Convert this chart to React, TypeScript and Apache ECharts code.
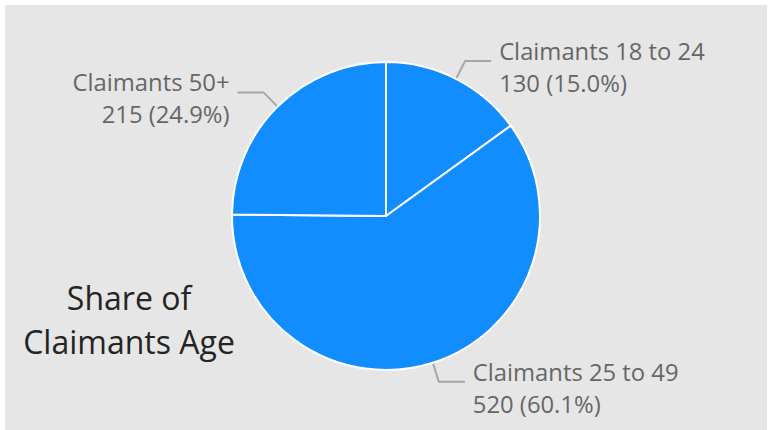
import React, { useEffect, useRef } from "react";
import * as echarts from "echarts";

const categories = ["Claimants 18 to 24", "Claimants 25 to 49", "Claimants 50+"];
const values = [130, 520, 215];
const titleLines = ["Share of", "Claimants Age"];

export default function App() {
  const ref = useRef<HTMLDivElement>(null);
  useEffect(() => {
    if (!ref.current) return;
    const chart = echarts.init(ref.current, undefined, { renderer: "svg" });
    chart.setOption({
      animation: false,
      backgroundColor: "#ffffff",
      graphic: [
        {
          type: "rect",
          z: -10,
          shape: { x: 5, y: 5, width: 762, height: 425 },
          style: { fill: "#e6e6e6" },
          silent: true,
        },
      ],
      title: {
        text: titleLines.join("\n"),
        left: 124,
        top: 270,
        textAlign: "center",
        textStyle: {
          fontFamily: "Open Sans",
          fontSize: 32,
          fontWeight: "normal",
          color: "#252423",
          lineHeight: 44,
        },
      },
      series: [
        {
          type: "pie",
          center: [386, 216],
          radius: 154,
          startAngle: 90,
          clockwise: true,
          percentPrecision: 1,
          avoidLabelOverlap: false,
          itemStyle: { color: "#118DFF", borderColor: "#ffffff", borderWidth: 2 },
          label: {
            formatter: (p: any) =>
              `{sp| }\n{t|${p.name}}\n{t|${p.value} (${Number(p.percent).toFixed(1)}%)}`,
            fontFamily: "Open Sans",
            fontSize: 23.8,
            color: "#666666",
            lineHeight: 32,
            distanceToLabelLine: 8,
            rich: {
              sp: { fontSize: 1, lineHeight: 12, height: 12 },
              t: { fontFamily: "Open Sans", fontSize: 23.8, color: "#666666", lineHeight: 32 },
            },
          },
          labelLine: {
            length: 20,
            length2: 26,
            lineStyle: { color: "#a6a6a6", width: 2 },
          },
          emphasis: { disabled: true },
          data: categories.map((name, i) => ({ name, value: values[i] })),
        },
      ],
    });
    return () => chart.dispose();
  }, []);
  return (
    <div style={{ position: "fixed", left: 0, top: 0, width: 771, height: 430, background: "#fff" }}>
      <div ref={ref} style={{ width: 771, height: 430 }} />
    </div>
  );
}
